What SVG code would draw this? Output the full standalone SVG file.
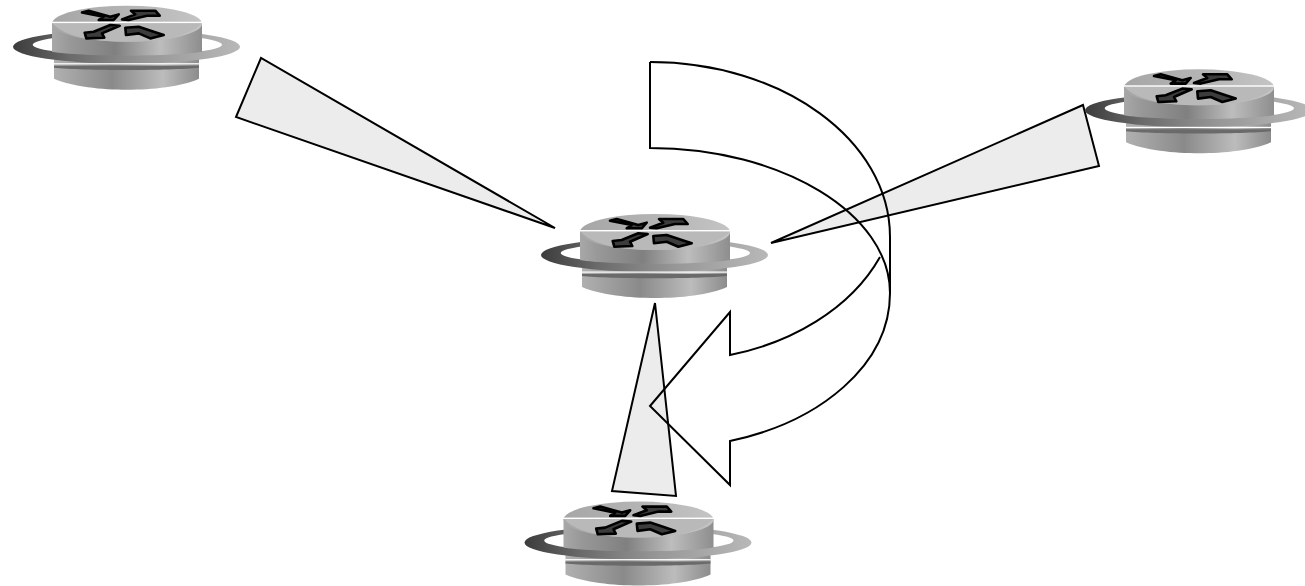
<svg xmlns="http://www.w3.org/2000/svg" xmlns:xlink="http://www.w3.org/1999/xlink" width="1305" height="586" viewBox="0 0 1305 586">
<style>
.wedge{fill:#ececec;stroke:#000;stroke-width:2;stroke-linejoin:miter}
.curve{fill:none;stroke:#000;stroke-width:2;stroke-linejoin:miter}
.glyph{fill:#3c3c3c;stroke:#000;stroke-width:2.6;stroke-linejoin:round}
</style>
<defs>
<linearGradient id="body" x1="0" x2="1" y1="0" y2="0">
<stop offset="0" stop-color="#a8a8a8"/><stop offset=".12" stop-color="#989898"/><stop offset=".42" stop-color="#808080"/><stop offset=".72" stop-color="#bdbdbd"/><stop offset="1" stop-color="#8e8e8e"/>
</linearGradient>
<linearGradient id="lower" x1="0" x2="1" y1="0" y2="0">
<stop offset="0" stop-color="#b0b0b0"/><stop offset=".4" stop-color="#8a8a8a"/><stop offset=".75" stop-color="#bcbcbc"/><stop offset="1" stop-color="#8c8c8c"/>
</linearGradient>
<linearGradient id="cap" x1="0" x2="1" y1="0" y2="0">
<stop offset="0" stop-color="#a6a6a6"/><stop offset=".5" stop-color="#b4b4b4"/><stop offset="1" stop-color="#c4c4c4"/>
</linearGradient>
<linearGradient id="ring" x1="0" x2="1" y1="0" y2="0">
<stop offset="0" stop-color="#3c3c3c"/><stop offset=".25" stop-color="#6a6a6a"/><stop offset=".6" stop-color="#989898"/><stop offset="1" stop-color="#b8b8b8"/>
</linearGradient>
<g id="router">
<path d="M52,60 V87 C70,95 100,98 125,98 C150,98 180,95 197,87 V60 Z" fill="url(#lower)"/>
<path fill-rule="evenodd" fill="url(#ring)" d="M11,55 A113.5,17 0 0 1 238,55 A113.5,17 0 0 1 11,55 Z M30.7,53 A94.5,10.5 0 0 0 220,53 A94.5,10.5 0 0 0 30.7,53 Z"/>
<path d="M52,74 H197 V76 C170,79 80,79 52,76 Z" fill="#6a6a6a"/>
<path d="M50,31 V60 C80,65 170,65 200,60 V31 Z" fill="url(#body)"/>
<ellipse cx="125" cy="32" rx="75" ry="18" fill="url(#cap)"/>
<path d="M50,31 C60,43 85,50 125,50 C165,50 190,43 200,31 Z" fill="#b9b9b9"/>
<rect x="49.5" y="30" width="151" height="1.4" fill="#fff"/>
<rect x="52" y="71.5" width="145" height="1.2" fill="#fff"/>
<polygon class="glyph" points="80,20.7 86.7,19 108.3,25 116.7,22.7 111.7,28.3 96.7,28.3 101.7,25"/>
<polygon class="glyph" points="120,27.7 133.3,22.7 129,19 153.3,19 157.7,24 145,24 126.7,28.3"/>
<polygon class="glyph" points="82.7,41 91.7,40 108.3,33.3 117.7,34 100,41.7 102.3,46 84.3,46.7"/>
<polygon class="glyph" points="123.3,36 136.7,35 151.7,40 161.7,43.3 148.3,46.7 136.7,41.7 124,43.3"/>
</g>
</defs>
<g id="connectors">
<polygon class="wedge" points="261,58 236,117 555,228"/>
<polygon class="wedge" points="1083,105 1099,166 771,243"/>
<polygon class="wedge" points="655,303 612,491 676,496"/>
<path class="curve" d="M650,62 V148 C782,148 890,214 890,293 C890,365 820,422 730,441 V485 L650,406 L730,312 V355 C790,343 850,310 880,257"/>
<path class="curve" d="M650,62 C782,62 890,140 890,237 V293"/>
</g>
<g id="router-top-left"><use href="#router" xlink:href="#router" transform="translate(2,-8.3)"/></g>
<g id="router-center"><use href="#router" xlink:href="#router" transform="translate(530,200)"/></g>
<g id="router-right"><use href="#router" xlink:href="#router" transform="translate(1074,55.3)"/></g>
<g id="router-bottom"><use href="#router" xlink:href="#router" transform="translate(513.5,487.6)"/></g>
</svg>
